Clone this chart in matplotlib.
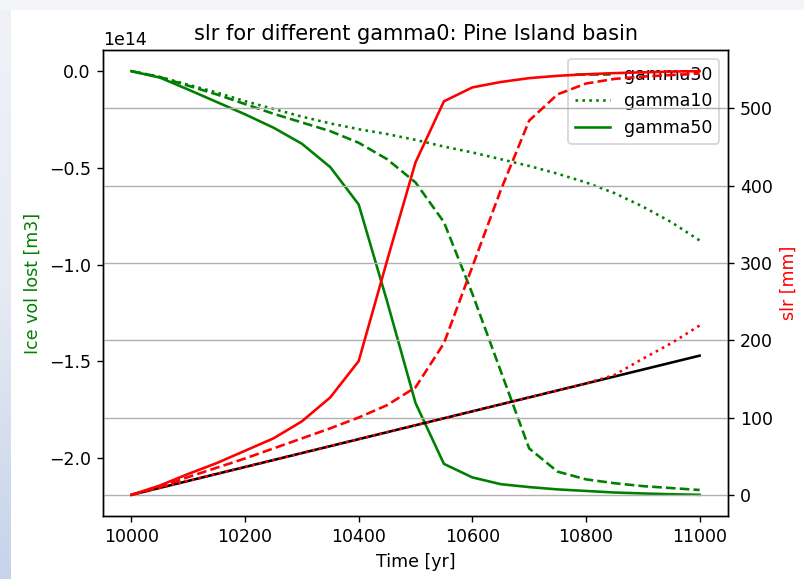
import numpy as np
import matplotlib
matplotlib.use("Agg")
import matplotlib.pyplot as plt
from matplotlib.colors import LinearSegmentedColormap

time = [10000, 10050, 10100, 10150, 10200, 10250, 10300, 10350, 10400, 10450, 10500,
        10550, 10600, 10650, 10700, 10750, 10800, 10850, 10900, 10950, 11000]

# Ice volume lost (units of 1e14 m3)
vol_gamma30 = [0, -0.03, -0.075, -0.12, -0.17, -0.22, -0.265, -0.31, -0.37, -0.455, -0.575,
               -0.78, -1.15, -1.55, -1.95, -2.07, -2.11, -2.13, -2.145, -2.155, -2.165]
vol_gamma10 = [0, -0.03, -0.07, -0.11, -0.155, -0.195, -0.235, -0.27, -0.30, -0.325, -0.355,
               -0.39, -0.42, -0.455, -0.49, -0.53, -0.575, -0.63, -0.70, -0.78, -0.875]
vol_gamma50 = [0, -0.033, -0.095, -0.159, -0.223, -0.292, -0.375, -0.496, -0.689, -1.19, -1.715,
               -2.03, -2.10, -2.135, -2.15, -2.162, -2.17, -2.178, -2.183, -2.187, -2.19]

# Sea level rise (mm)
slr_gamma30 = [0, 10, 23, 35, 47, 60, 73, 86, 100, 116, 139,
               196, 295, 394, 484, 518, 532, 538, 541, 543, 545]
slr_gamma10 = [0, 9, 18, 27, 36, 45, 54, 63, 72, 81, 90,
               99, 108, 117, 126, 135, 144, 155, 176, 196, 219]
slr_gamma50 = [0, 12, 27, 41, 57, 73, 95, 126, 173, 303, 430,
               509, 527, 534, 539, 542, 544, 545.5, 546.5, 547.5, 548]
slr_ref = [0, 9, 18, 27, 36, 45, 54, 63, 72, 81, 90,
           99, 108, 117, 126, 135, 144, 153, 162, 171, 180]

DPI = 125
W, H = 804, 579
fig = plt.figure(figsize=(W / DPI, H / DPI), dpi=DPI, facecolor="white")

# screenshot surroundings
bg = fig.add_axes([0, 0, 11 / W, 1], zorder=-10)
grad = np.linspace(0, 1, 256).reshape(-1, 1)
cm = LinearSegmentedColormap.from_list("g", ["#f0f2f7", "#e6eaf3", "#c6d3ea"])
bg.imshow(grad, aspect="auto", cmap=cm, extent=[0, 1, 0, 1], origin="upper")
bg.axis("off")
fig.patches.append(plt.Rectangle((0, 1 - 9 / H), 1, 9 / H, transform=fig.transFigure,
                                 color="#f3f5f9", zorder=-10))

ax1 = fig.add_axes([103 / W, 1 - 516 / H, (728 - 103) / W, (516 - 50) / H])
ax2 = ax1.twinx()

v30 = np.array(vol_gamma30) * 1e14
v10 = np.array(vol_gamma10) * 1e14
v50 = np.array(vol_gamma50) * 1e14

ax1.plot(time, v30, color="green", linestyle="--", label="gamma30")
ax1.plot(time, v10, color="green", linestyle=":", label="gamma10")
ax1.plot(time, v50, color="green", linestyle="-", label="gamma50")
ax1.set_ylabel("Ice vol lost [m3]", color="green")
ax1.set_xlabel("Time [yr]")
ax1.legend(loc="upper right")
ax1.set_title("slr for different gamma0: Pine Island basin")

ax2.plot(time, slr_ref, color="black")
ax2.plot(time, slr_gamma30, color="red", linestyle="--")
ax2.plot(time, slr_gamma10, color="red", linestyle=":")
ax2.plot(time, slr_gamma50, color="red", linestyle="-")
ax2.set_ylabel("slr [mm]", color="red")
ax2.grid(True, axis="y")

fig.savefig("out.png", dpi=DPI, facecolor="white")
